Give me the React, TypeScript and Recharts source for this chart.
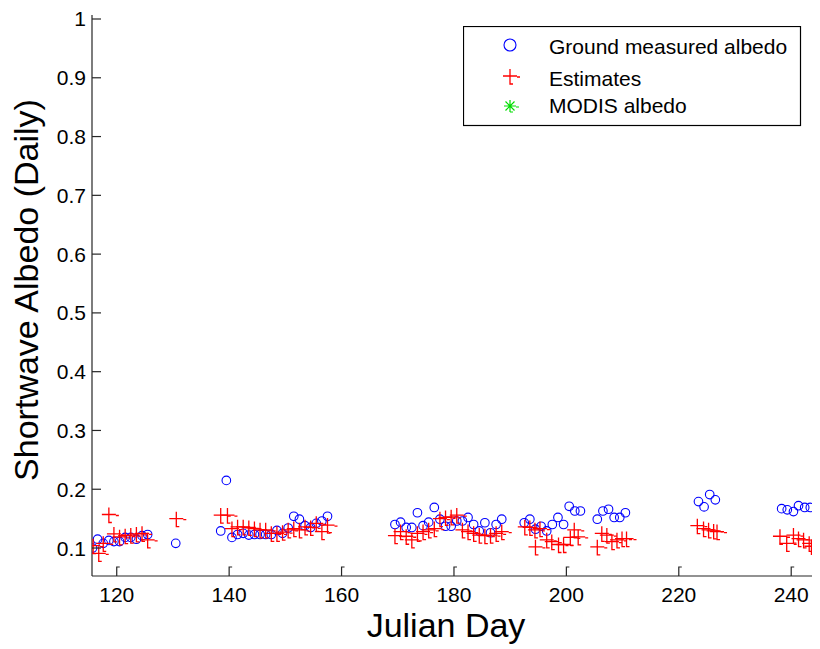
import { ScatterChart, Scatter, XAxis, YAxis, Legend } from 'recharts'

const FONT = '"Liberation Sans", Arial, sans-serif'
const AXIS = '#262626'

// ground measured albedo (day, daily albedo)
const groundDays = [
  115.7, 116.6, 117.6, 118.6, 119.5, 120.5, 121.5, 122.5, 123.5, 124.5, 125.5,
  130.5,
  138.5, 139.5, 140.5, 141.5, 142.5, 143.5, 144.5, 145.5, 146.5, 147.5, 148.5, 149.5,
  150.5, 151.5, 152.5, 153.5, 154.5, 155.5, 156.5, 157.5,
  169.5, 170.5, 171.5, 172.5, 173.5, 174.5, 175.5, 176.5, 177.5, 178.5, 179.5, 180.5,
  181.5, 182.5, 183.5, 184.5, 185.5, 186.5, 187.5, 188.5,
  192.5, 193.5, 194.5, 195.5, 196.5, 197.5, 198.5, 199.5, 200.5, 201.5, 202.5,
  205.5, 206.5, 207.5, 208.5, 209.5, 210.5,
  223.5, 224.5, 225.5, 226.5,
  238.3, 239.3, 240.4, 241.3, 242.4, 243.4,
]
const groundAlbedo = [
  0.100, 0.115, 0.108, 0.113, 0.111, 0.111, 0.118, 0.118, 0.115, 0.121, 0.123,
  0.108,
  0.129, 0.215, 0.118, 0.123, 0.125, 0.122, 0.123, 0.123, 0.123, 0.123, 0.130, 0.125,
  0.134, 0.154, 0.149, 0.138, 0.135, 0.142, 0.146, 0.154,
  0.140, 0.144, 0.135, 0.135, 0.160, 0.138, 0.144, 0.169, 0.149, 0.137, 0.137, 0.146,
  0.146, 0.152, 0.140, 0.129, 0.143, 0.126, 0.140, 0.149,
  0.143, 0.149, 0.132, 0.137, 0.129, 0.140, 0.152, 0.140, 0.171, 0.163, 0.163,
  0.149, 0.163, 0.166, 0.152, 0.152, 0.160,
  0.179, 0.170, 0.191, 0.182,
  0.167, 0.165, 0.162, 0.172, 0.169, 0.169,
]

// estimates
const estimateDays = [
  115.8, 116.8, 117.6, 118.6, 119.5, 120.5, 121.5, 122.5, 123.5, 124.5, 125.5,
  130.6,
  138.5, 139.7, 140.5, 141.5, 142.5, 143.5, 144.5, 145.5, 146.5, 147.5, 148.5, 149.5,
  150.5, 151.5, 152.5, 153.5, 154.5, 155.5, 156.5, 157.5,
  169.5, 170.5, 171.5, 172.5, 173.5, 174.5, 175.5, 176.5, 177.5, 178.5, 179.5, 180.5,
  181.5, 182.5, 183.5, 184.5, 185.5, 186.5, 187.5, 188.5,
  192.6, 193.5, 194.4, 194.5, 195.3, 196.5, 197.4, 198.6, 199.5, 200.7, 201.4, 202.1,
  205.5, 206.3, 207.2, 208.1, 209.0, 209.9, 210.7,
  223.3, 224.4, 225.3, 226.2, 226.8,
  238.0, 239.2, 240.4, 241.3, 242.2, 243.2, 243.6,
]
const estimateAlbedo = [
  0.104, 0.091, 0.108, 0.157, 0.124, 0.119, 0.121, 0.122, 0.124, 0.125, 0.114,
  0.150,
  0.156, 0.156, 0.133, 0.136, 0.136, 0.135, 0.133, 0.131, 0.131, 0.125, 0.125, 0.127,
  0.131, 0.133, 0.131, 0.136, 0.135, 0.142, 0.128, 0.139,
  0.121, 0.128, 0.120, 0.114, 0.125, 0.128, 0.131, 0.133, 0.150, 0.152, 0.153, 0.156,
  0.131, 0.128, 0.125, 0.122, 0.121, 0.122, 0.125, 0.128,
  0.136, 0.135, 0.131, 0.102, 0.133, 0.114, 0.111, 0.106, 0.106, 0.118, 0.131, 0.119,
  0.102, 0.125, 0.122, 0.111, 0.114, 0.116, 0.116,
  0.138, 0.133, 0.131, 0.129, 0.128,
  0.120, 0.108, 0.122, 0.116, 0.114, 0.108, 0.103,
]

// MODIS albedo has no points inside this window
const modisDays: number[] = []
const modisAlbedo: number[] = []

const xTicks = [120, 140, 160, 180, 200, 220, 240]
const yTicks = [0.1, 0.2, 0.3, 0.4, 0.5, 0.6, 0.7, 0.8, 0.9, 1]

const ground = groundDays.map((d, i) => ({ day: d, albedo: groundAlbedo[i] }))
const estimates = estimateDays.map((d, i) => ({ day: d, albedo: estimateAlbedo[i] }))
const modis = modisDays.map((d, i) => ({ day: d, albedo: modisAlbedo[i] }))

const PLUS = 'M-7,0H7M0,-7V8H3M7,1H10'
const STAR = 'M-6,0H6M0,-6V6M-4.5,-4.5L4.5,4.5M-4.5,4.5L4.5,-4.5M0,6H3M6,1H9'

const Circle = (p: any) => (
  <circle cx={p.cx} cy={p.cy} r={4.3} fill="none" stroke="#0000ff" strokeWidth={1.1} />
)
const Plus = (p: any) => (
  <path d={PLUS} transform={`translate(${p.cx},${p.cy})`} fill="none" stroke="#ff0000" strokeWidth={1.3} />
)
const Star = (p: any) => (
  <path d={STAR} transform={`translate(${p.cx},${p.cy})`} fill="none" stroke="#00dd00" strokeWidth={1.2} />
)

const XTick = (props: any) => {
  const { x, y, payload } = props
  return (
    <g>
      <path d={`M${x},${y}V${y - 9}h3`} stroke={AXIS} strokeWidth={1.2} fill="none" />
      <text x={x} y={y + 26} textAnchor="middle" fontSize={21} fill="#000" fontFamily={FONT}>
        {payload.value}
      </text>
    </g>
  )
}

const YTick = (props: any) => {
  const { x, y, payload } = props
  const v = payload.value
  return (
    <g>
      <path d={`M${x},${y}H${x + 9}`} stroke={AXIS} strokeWidth={1.2} fill="none" />
      <text x={x - 6} y={y + 7.5} textAnchor="end" fontSize={21} fill="#000" fontFamily={FONT}>
        {v === 1 ? '1' : v.toFixed(1)}
      </text>
    </g>
  )
}

const XLabel = () => (
  <text x={446} y={637} textAnchor="middle" fontSize={34} fontFamily={FONT} fill="#000">
    Julian Day
  </text>
)

const YLabel = () => (
  <text x={38} y={290} transform="rotate(-90, 38, 290)" textAnchor="middle" fontSize={34}
    fontFamily={FONT} fill="#000">
    Shortwave Albedo (Daily)
  </text>
)

const LegendBox = () => (
  <svg width={340} height={102} style={{ display: 'block' }}>
    <rect x={0.5} y={0.5} width={337} height={99} fill="#fff" stroke="#000" strokeWidth={1.2} />
    <circle cx={47} cy={19} r={6} fill="none" stroke="#0000ff" strokeWidth={1.1} />
    <text x={86} y={28} fontSize={21} fontFamily={FONT} fill="#000">Ground measured albedo</text>
    <path d={PLUS} transform="translate(47,50)" fill="none" stroke="#ff0000" strokeWidth={1.3} />
    <text x={86} y={60} fontSize={21} fontFamily={FONT} fill="#000">Estimates</text>
    <path d={STAR} transform="translate(47,80)" fill="none" stroke="#00dd00" strokeWidth={1.2} />
    <text x={86} y={87} fontSize={21} fontFamily={FONT} fill="#000">MODIS albedo</text>
  </svg>
)

export default function App() {
  return (
    <div style={{ position: 'absolute', left: 0, top: 0, width: 820, height: 649, background: '#fff' }}>
      <ScatterChart width={820} height={649} margin={{ top: 15, right: 8, bottom: 0, left: 0 }}>
        <XAxis
          type="number"
          dataKey="day"
          domain={[115.6, 243.7]}
          allowDataOverflow
          ticks={xTicks}
          height={73}
          tickSize={0}
          tickMargin={0}
          tick={<XTick />}
          stroke={AXIS}
          strokeWidth={1.2}
          label={{ value: 'Julian Day', content: XLabel }}
        />
        <YAxis
          type="number"
          dataKey="albedo"
          domain={[0.0524, 1.0068]}
          allowDataOverflow
          ticks={yTicks}
          width={92}
          tickSize={0}
          tickMargin={0}
          tick={<YTick />}
          stroke={AXIS}
          strokeWidth={1.2}
          label={{ value: 'Shortwave Albedo (Daily)', content: YLabel }}
        />
        <Legend
          layout="horizontal"
          verticalAlign="middle"
          align="center"
          wrapperStyle={{ left: 463, top: 26, width: 340, height: 102 }}
          content={() => <LegendBox />}
        />
        <Scatter name="Ground measured albedo" data={ground} shape={Circle} isAnimationActive={false} />
        <Scatter name="Estimates" data={estimates} shape={Plus} isAnimationActive={false} />
        <Scatter name="MODIS albedo" data={modis} shape={Star} isAnimationActive={false} />
      </ScatterChart>
    </div>
  )
}
